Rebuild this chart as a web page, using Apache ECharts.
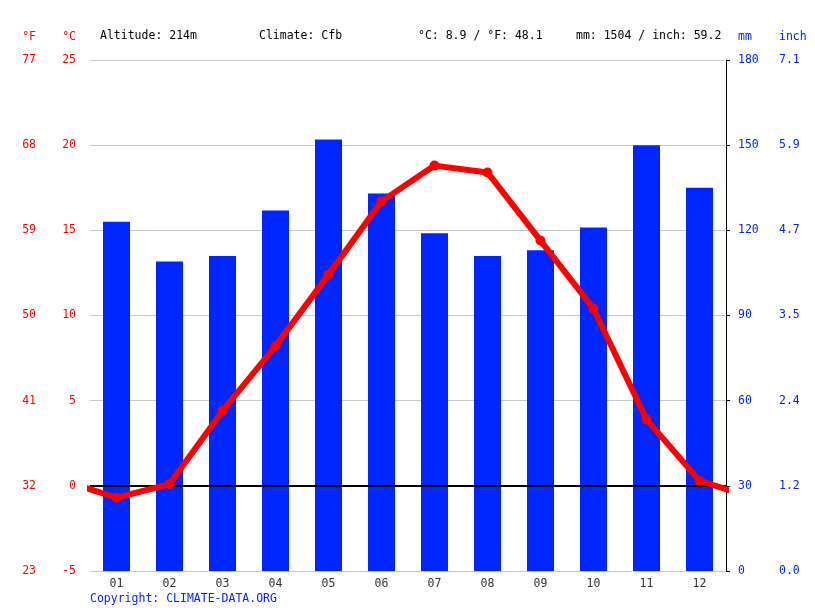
<!DOCTYPE html>
<html>
<head>
<meta charset="utf-8">
<script src="https://cdn.jsdelivr.net/npm/echarts@6/dist/echarts.min.js"></script>
<style>
html, body { margin: 0; padding: 0; background: #fff; }
#chart { width: 815px; height: 611px; }
</style>
</head>
<body>
<div id="chart"></div>
<script>
// monthly climate values
var months = ['01', '02', '03', '04', '05', '06', '07', '08', '09', '10', '11', '12'];
var precipMm = [123, 109, 111, 127, 152, 133, 119, 111, 113, 121, 150, 135];
var tempC = [-0.7, 0.1, 4.4, 8.2, 12.4, 16.7, 18.8, 18.4, 14.4, 10.4, 3.9, 0.3];
var headerTexts = ['Altitude: 214m', 'Climate: Cfb', '°C: 8.9 / °F: 48.1', 'mm: 1504 / inch: 59.2'];
var headerX = [100, 259, 418, 576];

var FONT = 'DejaVu Sans Mono';
var RED = '#ff0000';
var BLUE = '#0026ff';

// line is drawn on a hidden value axis so it can run off to the edges (wraps Dec -> Jan)
var linePoints = [[-0.5, tempC[11]]];
tempC.forEach(function (t, i) { linePoints.push([i + 0.5, t]); });
linePoints.push([12.5, tempC[0]]);

var chart = echarts.init(document.getElementById('chart'));

var option = {
    animation: false,
    textStyle: { fontFamily: FONT },
    grid: { left: 90, right: 89, top: 60, bottom: 40 },
    graphic: headerTexts.map(function (t, i) {
        return {
            type: 'text', left: headerX[i], top: 30,
            style: { text: t, fill: '#000', font: '11.5px ' + FONT }
        };
    }).concat([{
        type: 'text', left: 90, top: 593,
        style: { text: 'Copyright: CLIMATE-DATA.ORG', fill: BLUE, font: '11.5px ' + FONT }
    }]),
    xAxis: [{
        type: 'category',
        data: months,
        axisLine: { lineStyle: { color: '#000', width: 1 } },
        axisTick: { length: 5, lineStyle: { color: '#000' } },
        axisLabel: { color: '#333', fontSize: 11.5, fontFamily: FONT, margin: 7 }
    }, {
        type: 'value', min: 0, max: 12, show: false
    }],
    yAxis: [{
        // °C
        type: 'value', position: 'left', min: -5, max: 25, interval: 5,
        name: '°C', nameLocation: 'end', nameGap: 17,
        nameTextStyle: { color: RED, fontSize: 11.5, fontFamily: FONT, align: 'right', padding: [0, 14, 0, 0] },
        axisLine: { show: false }, axisTick: { show: false },
        axisLabel: { color: RED, fontSize: 11.5, fontFamily: FONT, margin: 14 },
        splitLine: { lineStyle: { color: '#c8c8c8' } }
    }, {
        // °F, mirror of °C
        type: 'value', position: 'left', offset: 40, min: -5, max: 25, interval: 5,
        name: '°F', nameLocation: 'end', nameGap: 17,
        nameTextStyle: { color: RED, fontSize: 11.5, fontFamily: FONT, align: 'right', padding: [0, 14, 0, 0] },
        axisLine: { show: false }, axisTick: { show: false }, splitLine: { show: false },
        axisLabel: {
            color: RED, fontSize: 11.5, fontFamily: FONT, margin: 14,
            formatter: function (v) { return Math.round(v * 9 / 5 + 32); }
        }
    }, {
        // mm
        type: 'value', position: 'right', min: 0, max: 180, interval: 30,
        name: 'mm', nameLocation: 'end', nameGap: 17,
        nameTextStyle: { color: BLUE, fontSize: 11.5, fontFamily: FONT, align: 'left', padding: [0, 0, 0, 12] },
        axisLine: { show: true, lineStyle: { color: '#000' } },
        axisTick: { show: true, length: 4, lineStyle: { color: '#000' } },
        axisLabel: { color: BLUE, fontSize: 11.5, fontFamily: FONT, margin: 12 },
        splitLine: { show: false }
    }, {
        // inch, mirror of mm
        type: 'value', position: 'right', offset: 41, min: 0, max: 180, interval: 30,
        name: 'inch', nameLocation: 'end', nameGap: 17,
        nameTextStyle: { color: BLUE, fontSize: 11.5, fontFamily: FONT, align: 'left', padding: [0, 0, 0, 12] },
        axisLine: { show: false }, axisTick: { show: false }, splitLine: { show: false },
        axisLabel: {
            color: BLUE, fontSize: 11.5, fontFamily: FONT, margin: 12,
            formatter: function (v) { return (v / 25.4).toFixed(1); }
        }
    }],
    series: [{
        type: 'bar',
        xAxisIndex: 0, yAxisIndex: 2,
        data: precipMm,
        barWidth: 27,
        itemStyle: { color: BLUE },
        z: 2
    }, {
        type: 'line',
        xAxisIndex: 1, yAxisIndex: 0,
        data: linePoints,
        clip: true,
        symbol: 'circle', symbolSize: 10,
        showAllSymbol: true,
        lineStyle: { color: RED, width: 6 },
        itemStyle: { color: RED },
        z: 4,
        markLine: {
            silent: true, symbol: 'none', label: { show: false },
            lineStyle: { color: '#000', width: 2, type: 'solid' },
            data: [{ yAxis: 0 }],
            z: 3
        }
    }]
};

chart.setOption(option);
</script>
</body>
</html>
